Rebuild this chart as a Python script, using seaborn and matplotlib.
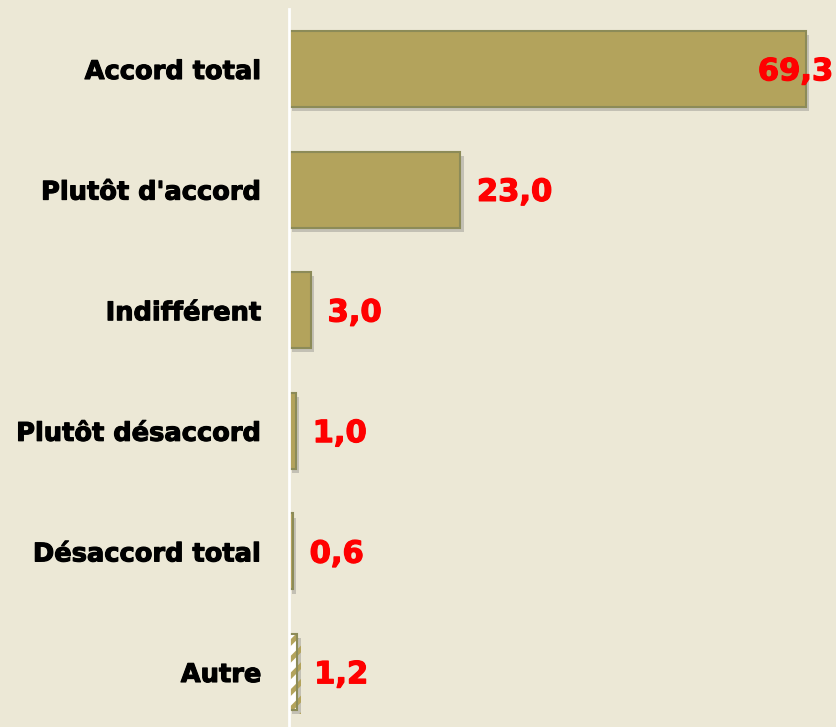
import matplotlib
matplotlib.use("Agg")
import matplotlib.pyplot as plt
import matplotlib.patheffects as pe
from matplotlib.patches import Rectangle
import pandas as pd
import seaborn as sns

categories = ["Accord total", "Plutôt d'accord", "Indifférent",
              "Plutôt désaccord", "Désaccord total", "Autre"]
values = [69.3, 23.0, 3.0, 1.0, 0.6, 1.2]
value_labels = ["69,3", "23,0", "3,0", "1,0", "0,6", "1,2"]

bg = "#ECE8D6"
bar_color = "#B3A35C"
edge_color = "#8C8B58"
red = "#FF0000"

sns.set_theme(style="white")
plt.rcParams["font.family"] = ["DejaVu Sans"]
plt.rcParams["hatch.linewidth"] = 3.5

fig = plt.figure(figsize=(8.36, 7.27), dpi=100, facecolor=bg)
ax = fig.add_axes([288.5 / 836, 0, 1 - 288.5 / 836, (727 - 9) / 727])
ax.set_facecolor(bg)

df = pd.DataFrame({"cat": categories, "val": values})
sns.barplot(data=df, x="val", y="cat", orient="h", color=bar_color,
            saturation=1, width=0.63, ax=ax, edgecolor=edge_color, linewidth=1.5)

shadow = [pe.SimplePatchShadow(offset=(2.5, -3), shadow_rgbFace="#666666", alpha=0.3),
          pe.Normal()]
for i, p in enumerate(list(ax.patches)):
    p.set_path_effects(shadow)
    if categories[i] == "Autre":
        # striped fill, then a separate darker outline on top
        p.set_facecolor("white")
        p.set_hatch("//")
        p.set_edgecolor(bar_color)
        p.set_linewidth(0)
        ax.add_patch(Rectangle((p.get_x(), p.get_y()), p.get_width(), p.get_height(),
                               facecolor="none", edgecolor=edge_color, linewidth=1.5,
                               zorder=p.get_zorder() + 0.1))

ax.set_xlim(0, (836 - 289) / 7.46)
ax.set_ylim(5.456, -0.4975)

heavy = [pe.withStroke(linewidth=0.9, foreground=red)]
xmax = ax.get_xlim()[1]
for i, (v, lab) in enumerate(zip(values, value_labels)):
    if v > 0.85 * xmax:
        ax.annotate(lab, xy=(xmax, i), xytext=(-2, -2), textcoords="offset points",
                    ha="right", va="center", color=red, path_effects=heavy,
                    fontsize=22, fontweight="bold", annotation_clip=False)
    else:
        ax.annotate(lab, xy=(v, i), xytext=(12, -2), textcoords="offset points",
                    ha="left", va="center", color=red, path_effects=heavy,
                    fontsize=22, fontweight="bold")

ax.set_xlabel("")
ax.set_ylabel("")
ax.set_xticks([])
ax.tick_params(axis="y", length=0, pad=19.5, labelsize=18.5)
for t in ax.get_yticklabels():
    t.set_fontweight("bold")
    t.set_color("black")
    t.set_path_effects([pe.withStroke(linewidth=0.8, foreground="black")])

for s in ["top", "right", "bottom"]:
    ax.spines[s].set_visible(False)
ax.spines["left"].set_color("white")
ax.spines["left"].set_linewidth(2)

fig.savefig("out.png", dpi=100, facecolor=bg)
